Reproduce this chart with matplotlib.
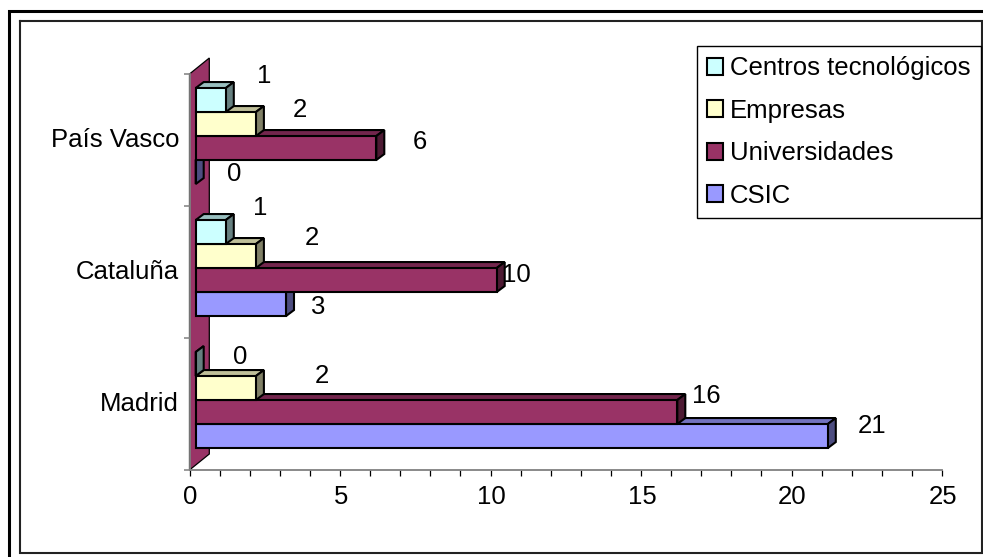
import matplotlib
matplotlib.use("Agg")
import matplotlib.pyplot as plt
from matplotlib.lines import Line2D
from matplotlib.patches import Patch, Polygon
from matplotlib.colors import to_rgb
from matplotlib.transforms import ScaledTranslation

plt.rcParams["font.family"] = ["Liberation Sans", "DejaVu Sans"]

# data
regions = ["Madrid", "Cataluña", "País Vasco"]
series_names = ["CSIC", "Universidades", "Empresas", "Centros tecnológicos"]
csic = [21, 3, 0]
universidades = [16, 10, 6]
empresas = [2, 2, 2]
centros = [0, 1, 1]
series_values = [csic, universidades, empresas, centros]
series_colors = ["#9999FF", "#993366", "#FFFFCC", "#CCFFFF"]

# hand placed data labels, pixel offset from the bar end (one row per series)
label_offsets = [
    [(44, 10), (32, -3), (38, -2)],
    [(29, 16), (20, 5), (44, 6)],
    [(66, 12), (56, 18), (44, 14)],
    [(44, 7), (34, 24), (38, 24)],
]

FONT_SIZE = 18.5
W, H = 983, 557
fig = plt.figure(figsize=(W / 100, H / 100), dpi=100)


def fx(px):
    return px / W


def fy(py):
    return 1 - py / H


# chart frames
fig.add_artist(Line2D([fx(8.5), fx(8.5), fx(983)], [fy(557), fy(10.5), fy(10.5)],
                      color="black", lw=2.2, solid_joinstyle="miter"))
fig.add_artist(Line2D([fx(19.5), fx(19.5), fx(981.5), fx(981.5), fx(19.5)],
                      [fy(21), fy(553), fy(553), fy(21), fy(21)],
                      color="#222222", lw=1.5, solid_joinstyle="miter"))

left, right, top, bottom = 189.5, 942, 74, 470
ax = fig.add_axes([fx(left), fy(bottom), fx(right - left), (bottom - top) / H])
ax.set_xlim(0, 25)
ax.set_ylim(0, 3)
ax.patch.set_alpha(0)

unit_x = (right - left) / 25
unit_y = (bottom - top) / 3
start = 6.2 / unit_x
depth_x = 8 / unit_x
depth_y = 6 / unit_y
bar_h = 24 / unit_y
group_base = 0.53 - 2 * bar_h


def shade(color, k):
    return tuple(c * k for c in to_rgb(color))


# back wall
wall_x = 19.8 / unit_x
wall_y = 16 / unit_y
ax.add_patch(Polygon([(0, 0), (wall_x, wall_y), (wall_x, 3 + wall_y), (0, 3)],
                     facecolor="#993366", edgecolor="black", lw=0.9,
                     clip_on=False, zorder=1))

edge = dict(edgecolor="black", lw=1.5, clip_on=False, joinstyle="miter")
for s, (name, values, color) in enumerate(zip(series_names, series_values, series_colors)):
    z = 2 + s
    for i, v in enumerate(values):
        y0 = i + group_base + s * bar_h
        x1 = start + v
        y1 = y0 + bar_h
        ax.add_patch(Polygon([(start, y1), (start + depth_x, y1 + depth_y),
                              (x1 + depth_x, y1 + depth_y), (x1, y1)],
                             facecolor=shade(color, 0.75), zorder=z, **edge))
        ax.add_patch(Polygon([(x1, y0), (x1 + depth_x, y0 + depth_y),
                              (x1 + depth_x, y1 + depth_y), (x1, y1)],
                             facecolor=shade(color, 0.5), zorder=z, **edge))
        ax.barh(y0, v, left=start, height=bar_h, align="edge", color=color,
                zorder=z, **edge)
        off = label_offsets[s][i]
        ax.annotate(str(v), (x1, y0 + bar_h / 2),
                    xytext=(off[0] * 0.72, off[1] * 0.72),
                    textcoords="offset points", ha="center", va="center",
                    fontsize=FONT_SIZE, color="black", annotation_clip=False, zorder=10)

# axes
for side in ["top", "right"]:
    ax.spines[side].set_visible(False)
for side in ["left", "bottom"]:
    ax.spines[side].set_color("#808080")
    ax.spines[side].set_linewidth(1.3)
    ax.spines[side].set_zorder(8)

ax.set_xticks(range(0, 26, 5))
ax.set_xticks(range(0, 26), minor=True)
ax.set_yticks(range(4))
ax.set_yticklabels([])
ax.set_yticks([0.5, 1.5, 2.5], labels=regions, minor=True)
ax.tick_params(axis="x", which="both", length=4.5, width=0.9, color="black",
               labelsize=FONT_SIZE, pad=6.5)
ax.tick_params(axis="y", which="major", length=4.5, width=1.1, color="#808080")
ax.tick_params(axis="y", which="minor", length=0, labelsize=FONT_SIZE, pad=7.5)

# nudge the region names up a little and the numbers right
up = ScaledTranslation(0, 2.5 / 100, fig.dpi_scale_trans)
for lab in ax.get_yticklabels(minor=True):
    lab.set_transform(lab.get_transform() + up)
nudge = ScaledTranslation(1 / 100, 0, fig.dpi_scale_trans)
for lab in ax.get_xticklabels():
    lab.set_transform(lab.get_transform() + nudge)

# legend, top series first
handles = [Patch(facecolor=c, edgecolor="black", lw=1.5, label=n)
           for n, c in zip(series_names[::-1], series_colors[::-1])]
fig.legend(handles=handles, loc="upper left",
           bbox_to_anchor=(fx(697), fy(46)), bbox_transform=fig.transFigure,
           fancybox=False, framealpha=1, edgecolor="black", fontsize=FONT_SIZE,
           handlelength=0.62, handleheight=0.62, handletextpad=0.27,
           labelspacing=0.72, borderpad=0.4, borderaxespad=0).get_frame().set_linewidth(1)

fig.savefig("out.png", dpi=100)
